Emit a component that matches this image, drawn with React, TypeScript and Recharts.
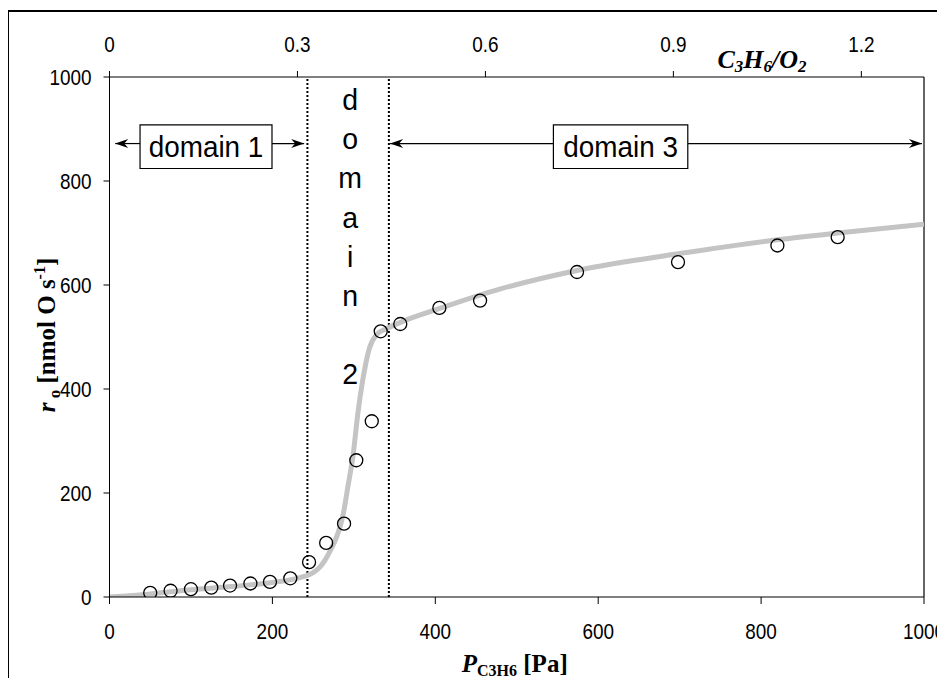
import {
  ComposedChart,
  Line,
  Scatter,
  XAxis,
  YAxis,
  ReferenceLine,
  ReferenceArea,
} from 'recharts'

// fitted curve
const fitP = [0, 50, 100, 150, 200, 225, 240, 250, 258, 265, 272, 278, 283, 287, 293, 299, 305, 311, 319, 328, 340, 360, 400, 479, 574, 698, 820, 894, 1000]
const fitR = [0, 6, 14, 20, 28, 34, 40, 47, 57, 72, 92, 112, 135, 160, 215, 272, 354, 418, 478, 505, 516, 530, 552, 592, 628, 660, 687, 700, 717]

// measured points (open circles)
const measP = [50, 75, 100, 125, 148, 173, 197, 222, 245, 266, 288, 303, 322, 333, 357, 405, 455, 574, 698, 820, 894]
const measR = [8, 12, 15, 18, 22, 26, 29, 36, 67, 104, 141, 263, 338, 511, 525, 556, 570, 625, 644, 676, 692]

const pressureTicks = [0, 200, 400, 600, 800, 1000]
const rateTicks = [0, 200, 400, 600, 800, 1000]
const ratioTicks = [0, 0.3, 0.6, 0.9, 1.2]
const ratioMax = 1.3

const domainBorders = [243, 343]
const domain2Letters = ['d', 'o', 'm', 'a', 'i', 'n', '', '2']
const arrowY = 872

const fitData = fitP.map((p, i) => ({ p, r: fitR[i] }))
const pointData = measP.map((p, i) => ({ p, r: measR[i] }))
const ratioData = [0, ratioMax].map((q) => ({ q, r: 0 }))

const SANS = "'Liberation Sans', Arial, sans-serif"
const SERIF = "'Liberation Serif', 'Times New Roman', serif"

const NarrowText = ({ x, y, size, anchor = 'middle', squeeze = 0.86, children }: any) => (
  <text
    transform={`translate(${x},${y}) scale(${squeeze},1)`}
    textAnchor={anchor}
    fontFamily={SANS}
    fontSize={size}
    fill='#000'
  >
    {children}
  </text>
)

const BottomTick = ({ x, y, payload }: any) => (
  <NarrowText x={x} y={y + 33} size={22}>{payload.value}</NarrowText>
)
const TopTick = ({ x, y, payload }: any) => (
  <NarrowText x={x} y={y - 17} size={22}>{payload.value}</NarrowText>
)
const LeftTick = ({ x, y, payload }: any) => (
  <NarrowText x={x - 10} y={y + 8} size={22} anchor='end'>{payload.value}</NarrowText>
)

const XTitle = ({ viewBox }: any) => (
  <text x={viewBox.x + viewBox.width / 2 - 2} y={viewBox.y + 75} textAnchor='middle' fontFamily={SERIF} fontWeight='bold' fontSize={25}>
    <tspan fontStyle='italic'>P</tspan>
    <tspan fontSize={16} dy={4}>C3H6</tspan>
    <tspan dy={-4}> [Pa]</tspan>
  </text>
)

const TopTitle = ({ viewBox }: any) => (
  <text x={viewBox.x + 608} y={viewBox.y + 31} fontFamily={SERIF} fontWeight='bold' fontStyle='italic' fontSize={26}>
    C<tspan fontSize={17} dy={4}>3</tspan>
    <tspan dy={-4}>H</tspan><tspan fontSize={17} dy={4}>6</tspan>
    <tspan dy={-4}>/O</tspan><tspan fontSize={17} dy={4}>2</tspan>
  </text>
)

const YTitle = ({ viewBox }: any) => (
  <text
    transform={`translate(${viewBox.x + 5},${viewBox.y + viewBox.height / 2 - 2}) rotate(-90)`}
    textAnchor='middle'
    fontFamily={SERIF}
    fontWeight='bold'
    fontSize={25}
  >
    <tspan fontStyle='italic'>r</tspan>
    <tspan fontSize={17} dy={5}> o</tspan>
    <tspan dy={-5}> [nmol O s</tspan>
    <tspan fontSize={16} dy={-10}>-1</tspan>
    <tspan dy={10}>]</tspan>
  </text>
)

// line with an arrowhead at its first end
const Arrow = ({ x1, y1, x2, y2 }: any) => {
  const dir = x1 < x2 ? 1 : -1
  return (
    <g>
      <line x1={x1} y1={y1} x2={x2} y2={y2} stroke='#000' strokeWidth={1.2} />
      <path
        d={`M${x1},${y1} L${x1 + dir * 13},${y1 - 4.5} L${x1 + dir * 9},${y1} L${x1 + dir * 13},${y1 + 4.5} Z`}
        fill='#000'
      />
    </g>
  )
}

const boxLabel = (text: string) => ({ viewBox }: any) => (
  <NarrowText x={viewBox.x + viewBox.width / 2} y={viewBox.y + viewBox.height / 2 + 10} size={30} squeeze={0.93}>
    {text}
  </NarrowText>
)

const Domain2Label = ({ viewBox }: any) => (
  <g>
    {domain2Letters.map((ch, i) => (
      <NarrowText key={i} x={viewBox.x + viewBox.width / 2 + 2} y={viewBox.y + 33 + i * 39.2} size={30} squeeze={0.95}>
        {ch}
      </NarrowText>
    ))}
  </g>
)

const Circle = ({ cx, cy }: any) => (
  <circle cx={cx} cy={cy} r={6.5} fill='none' stroke='#000' strokeWidth={1.3} />
)

const NoMark = () => <g />

export default function App() {
  return (
    <div style={{ position: 'relative', width: 945, height: 686, margin: -8, overflow: 'hidden', background: '#fff' }}>
      <div style={{ position: 'absolute', left: 7, top: 10, width: 960, height: 720, border: '2px solid #000' }} />
      <div style={{ position: 'absolute', left: 0, top: 0 }}>
        <ComposedChart width={945} height={686} margin={{ top: 37, right: 21, bottom: 29, left: 49.5 }}>
          <XAxis
            dataKey='p'
            type='number'
            domain={[0, 1000]}
            ticks={pressureTicks}
            interval={0}
            allowDataOverflow
            height={60}
            tickSize={7}
            stroke='#000'
            tick={<BottomTick />}
            label={{ content: XTitle }}
          />
          <XAxis
            xAxisId='top'
            dataKey='q'
            orientation='top'
            type='number'
            domain={[0, ratioMax]}
            ticks={ratioTicks}
            interval={0}
            allowDataOverflow
            height={40}
            tickSize={6}
            stroke='#000'
            tick={<TopTick />}
            label={{ content: TopTitle }}
          />
          <YAxis
            type='number'
            domain={[0, 1000]}
            ticks={rateTicks}
            interval={0}
            allowDataOverflow
            width={60}
            tickSize={6}
            stroke='#000'
            tick={<LeftTick />}
            label={{ content: YTitle }}
          />
          <ReferenceLine x={1000} stroke='#000' strokeWidth={1.2} />
          {domainBorders.map((b) => (
            <ReferenceLine key={b} x={b} stroke='#000' strokeWidth={2} strokeDasharray='2 2' />
          ))}
          <ReferenceArea x1={243} x2={343} y1={0} y2={1000} fillOpacity={0} strokeOpacity={0} label={{ content: Domain2Label }} />

          <ReferenceLine segment={[{ x: 7, y: arrowY }, { x: 37.5, y: arrowY }]} shape={Arrow} />
          <ReferenceLine segment={[{ x: 239, y: arrowY }, { x: 199.5, y: arrowY }]} shape={Arrow} />
          <ReferenceArea x1={37.5} x2={199.5} y1={824} y2={908} fill='#fff' fillOpacity={1} stroke='#000' strokeWidth={1.2} label={{ content: boxLabel('domain 1') }} />

          <ReferenceLine segment={[{ x: 344.5, y: arrowY }, { x: 545, y: arrowY }]} shape={Arrow} />
          <ReferenceLine segment={[{ x: 997.5, y: arrowY }, { x: 710, y: arrowY }]} shape={Arrow} />
          <ReferenceArea x1={545} x2={710} y1={824} y2={908} fill='#fff' fillOpacity={1} stroke='#000' strokeWidth={1.2} label={{ content: boxLabel('domain 3') }} />

          <Scatter xAxisId='top' data={ratioData} dataKey='r' shape={<NoMark />} isAnimationActive={false} />
          <Line data={fitData} dataKey='r' type='monotone' stroke='#c4c4c4' strokeWidth={5} dot={false} isAnimationActive={false} />
          <Scatter data={pointData} dataKey='r' shape={<Circle />} isAnimationActive={false} />
        </ComposedChart>
      </div>
    </div>
  )
}
